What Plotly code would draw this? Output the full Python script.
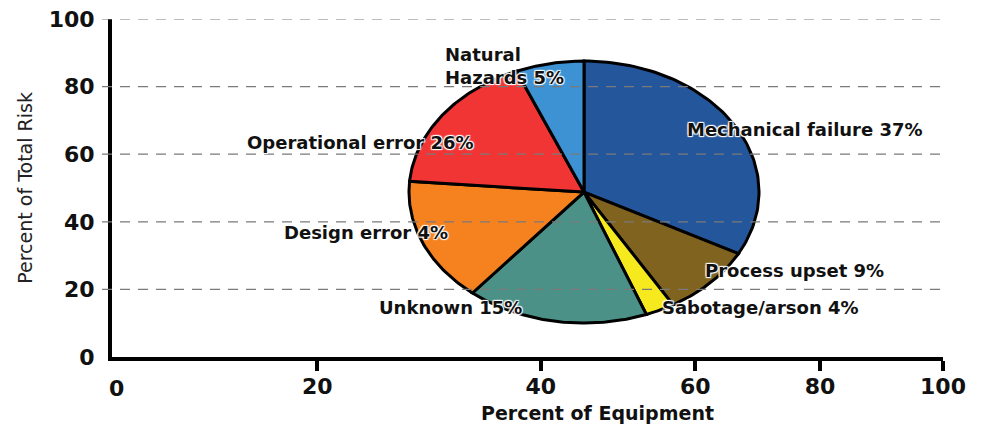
import numpy as np
import plotly.graph_objects as go

# ---------------- data ----------------
CATEGORIES = ["Mechanical failure", "Process upset", "Sabotage/arson", "Unknown",
              "Design error", "Operational error", "Natural Hazards"]
LABEL_PCT = [37, 9, 4, 15, 4, 26, 5]              # percentages printed in labels
DRAWN_SHARE = [32.8, 8.7, 2.7, 16.8, 15.3, 17.4, 6.3]  # slice sizes as drawn (%)
SLICE_COLORS = ["#24569c", "#80631f", "#f6ea1f", "#4b9187",
                "#f6821f", "#f13535", "#3c92d3"]

Y_TICKS = [0, 20, 40, 60, 80, 100]
X_TICK_LABELS = ["0", "20", "40", "60", "80", "100"]
X_TICK_POS = [0.6, 24.7, 51.6, 70.2, 85.2, 100]

# ---------------- geometry / styling ----------------
PIE_CX, PIE_CY = 56.8, 48.8     # pie centre in axis units
PIE_RX, PIE_RY = 21.06, 38.76   # pie radii in axis units
START_ANGLE = 90.0

LABEL_XY = {
    "Mechanical failure": (83.4, 67.2, "center"),
    "Process upset": (82.1, 25.7, "center"),
    "Sabotage/arson": (78.0, 14.5, "center"),
    "Unknown": (40.7, 14.5, "center"),
    "Design error": (30.6, 36.7, "center"),
    "Operational error": (29.9, 63.6, "center"),
    "Natural Hazards": (39.8, 86.1, "left"),
}

BOLD = "DejaVu Sans"
fig = go.Figure()

cum = 0.0
for cat, share, col in zip(CATEGORIES, DRAWN_SHARE, SLICE_COLORS):
    a0 = np.radians(START_ANGLE - cum * 3.6)
    a1 = np.radians(START_ANGLE - (cum + share) * 3.6)
    t = np.linspace(a0, a1, 80)
    xs = np.concatenate([[PIE_CX], PIE_CX + PIE_RX * np.cos(t), [PIE_CX]])
    ys = np.concatenate([[PIE_CY], PIE_CY + PIE_RY * np.sin(t), [PIE_CY]])
    fig.add_trace(go.Scatter(x=xs, y=ys, mode="lines", fill="toself",
                             fillcolor=col, line=dict(color="black", width=3),
                             name=cat, hoverinfo="name"))
    cum += share

shadow = "1px 1px 1px white, -1px -1px 1px white, 1px -1px 1px white, -1px 1px 1px white"
for cat, pct in zip(CATEGORIES, LABEL_PCT):
    x, y, anchor = LABEL_XY[cat]
    if cat == "Natural Hazards":
        txt = f"Natural<br>Hazards {pct}%"
    else:
        txt = f"{cat} {pct}%"
    fig.add_annotation(x=x, y=y, text=txt, showarrow=False, xanchor=anchor,
                       yanchor="middle", align="left",
                       font=dict(family=BOLD, size=18, color="#111", weight="bold",
                                 shadow=shadow))

# dashed gridlines drawn above the pie
for yv in Y_TICKS[1:]:
    fig.add_shape(type="line", xref="paper", x0=-0.012, x1=1.0, yref="y", y0=yv, y1=yv,
                  line=dict(color="#7a7a7a", width=1.2, dash="10px,8px"), layer="above")

# "0" label of x axis
fig.add_annotation(x=X_TICK_POS[0], y=-0.092, yref="paper", text=X_TICK_LABELS[0],
                   showarrow=False, xanchor="center", yanchor="middle",
                   font=dict(family=BOLD, size=22, color="#111", weight="bold"))
# x axis title
fig.add_annotation(x=58.4, y=-0.166, yref="paper", text="Percent of Equipment",
                   showarrow=False, xanchor="center", yanchor="middle",
                   font=dict(family=BOLD, size=19, color="#111", weight="bold"))
# y axis title
fig.add_annotation(x=-0.105, xref="paper", y=0.5, yref="paper", text="Percent of Total Risk",
                   showarrow=False, textangle=-90, xanchor="center", yanchor="middle",
                   font=dict(family="DejaVu Sans", size=19, color="#222"))

# page body has an 8px margin, so the figure is sized/offset to compensate
fig.update_layout(
    width=980, height=422,
    margin=dict(l=104, r=45, t=11, b=73),
    plot_bgcolor="white", paper_bgcolor="white",
    showlegend=False,
    xaxis=dict(range=[0, 100], showgrid=False, zeroline=False, automargin=False,
               showline=True, linecolor="black", linewidth=4,
               ticks="outside", ticklen=10, tickwidth=4, tickcolor="black",
               tickvals=X_TICK_POS[1:], ticktext=X_TICK_LABELS[1:],
               tickfont=dict(family=BOLD, size=22, color="#111", weight="bold"),
               ticklabelstandoff=-3, ticklabeloverflow="allow", fixedrange=True),
    yaxis=dict(range=[0, 100], showgrid=False, zeroline=False, automargin=False,
               showline=True, linecolor="black", linewidth=4,
               ticks="", tickvals=Y_TICKS,
               tickfont=dict(family=BOLD, size=22, color="#111", weight="bold"),
               ticklabelstandoff=9, ticklabeloverflow="allow",
               fixedrange=True),
)

fig.write_html("out.html")
